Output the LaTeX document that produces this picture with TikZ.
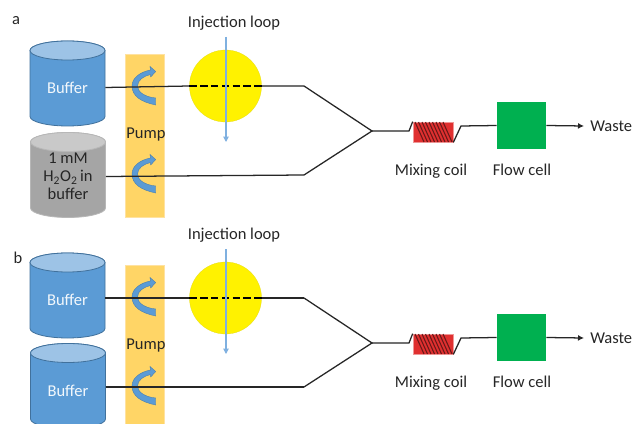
\documentclass[tikz,border=0pt]{standalone}
\usepackage{fontspec}
\setmainfont{Carlito}
\usetikzlibrary{arrows.meta}
\definecolor{cylblue}{HTML}{5B9BD5}
\definecolor{cyledge}{HTML}{41719C}
\definecolor{cyltop}{HTML}{9DC3E6}
\definecolor{cylgray}{HTML}{A5A5A5}
\definecolor{cylgraytop}{HTML}{C9C9C9}
\definecolor{pumpfill}{HTML}{FFD566}
\definecolor{pumpedge}{HTML}{FFE2A0}
\definecolor{coilred}{HTML}{E03030}
\definecolor{coildark}{HTML}{6A1818}
\definecolor{cellgreen}{HTML}{00B050}
\definecolor{loopblue}{HTML}{7FB0E0}
\definecolor{txt}{HTML}{262626}
\def\px{0.75pt}
\tikzset{
  lbl/.style={font=\fontsize{12.4}{14}\selectfont,text=txt,inner sep=0pt},
  cyllbl/.style={lbl,align=center,minimum width=75*\px,minimum height=40*\px},
  pipe/.style={draw=black!85,line width=0.95pt,line join=miter},
  dashpipe/.style={draw=black,line width=1.5pt,dash pattern=on 5.5pt off 2.6pt},
  pumpbar/.style={fill=pumpfill,draw=pumpedge,line width=0.6pt,minimum width=39*\px,inner sep=0pt},
  curl/.style={fill=cylblue,draw=cyledge!70!cylblue,line width=0.3pt},
  loopdisc/.style={circle,fill=yellow,draw=yellow!70!black!40!yellow,line width=0.2pt,minimum size=72*\px,inner sep=0pt},
  coilbox/.style={fill=coilred,draw=coilred!50!white,line width=0.5pt,minimum width=40*\px,minimum height=20*\px,inner sep=0pt},
  cellbox/.style={fill=cellgreen,minimum width=49*\px,minimum height=47*\px,inner sep=0pt},
  inject/.style={draw=loopblue,line width=0.8pt,-{Triangle[length=4pt,width=4pt]}},
  outflow/.style={draw=black!85,line width=0.95pt,-{Latex[length=4.5pt,width=4.5pt]}},
  winding/.style={draw=coildark,line width=0.8pt}
}
\newcommand{\drum}[5]{%
  \fill[#3,draw=#5,line width=0.6pt] (#1-37.5,#2) -- (#1-37.5,#2+66)
    arc[start angle=180,end angle=360,x radius=37.5,y radius=-9.5] -- (#1+37.5,#2)
    arc[start angle=0,end angle=180,x radius=37.5,y radius=-9.5] -- cycle;
  \draw[fill=#4,draw=#5,line width=0.6pt] (#1,#2) ellipse[x radius=37.5,y radius=9.5];
}
\newcommand{\curl}[1]{%
  \fill[curl] (155.7,#1+18) .. controls (141,#1+15) and (132,#1+9) .. (132,#1-1)
   .. controls (132,#1-9) and (140,#1-15) .. (150.5,#1-17) -- (150,#1-20.5) -- (155.7,#1-15.5) -- (150.7,#1-10) -- (150.5,#1-12.5)
   .. controls (144,#1-11) and (137.5,#1-7) .. (137.5,#1-1)
   .. controls (137.5,#1+5) and (145,#1+10) .. (155.7,#1+11) -- cycle;
}
\newcommand{\flowrun}[2]{%
\begin{scope}[shift={(0,#2)},name prefix=#1]
  \node[loopdisc] (disc) at (225.5,86) {};
  \node[lbl] (inj) at (234,23) {Injection loop};
  \coordinate (injtop) at (226,37);
  \coordinate (injend) at (226,142);
  \coordinate (bend1) at (304,86);
  \coordinate (bend2) at (304,175);
  \node[coordinate] (join) at (372,131) {};
  \node[coilbox] (coil) at (433,132) {};
  \node[cellbox] (cell) at (521.5,125.5) {};
  \coordinate (wasteend) at (584,126);
  \node[lbl,anchor=west] (waste) at (590,126.5) {Waste};
  \node[lbl] (coillbl) at (431,171) {Mixing coil};
  \node[lbl] (celllbl) at (522,170) {Flow cell};
  \coordinate (c1) at (409,131);
  \coordinate (c2) at (461,126);
  \foreach \i in {0,...,8} {\draw[winding] (415+3.5*\i,122) -- (424+3.5*\i,142);}
  \draw[pipe] (join) -- (c1) -- (coil.north west);
  \draw[pipe] (coil.south east) -- (c2) -- (cell.west);
  \draw[outflow] (cell.east) -- (wasteend);
  \draw[pipe] (bend1) -- (join) -- (bend2);
\end{scope}}
\begin{document}
\begin{tikzpicture}[x=0.75pt,y=-0.75pt]
\useasboundingbox (0,0) rectangle (632,424);
\clip (0,0) rectangle (632,424);
\fill[white] (0,0) rectangle (632,424);

% panel a
\node[pumpbar,minimum height=163*\px] (pumpa) at (144.5,135.5) {};
\drum{67.5}{50.5}{cylblue}{cyltop}{cyledge}
\drum{68}{142}{cylgray}{cylgraytop}{cylgray!80!white}
\curl{87}\curl{175}
\node[lbl] (la) at (16,21) {a};
\node[cyllbl,text=white!88!cyltop] (bufa) at (67.5,87.5) {Buffer};
\node[cyllbl,minimum height=60*\px] (pera) at (68,176.5) {1 mM\\[-0.5pt]H\textsubscript{2}O\textsubscript{2}\kern-1pt\ in\\[-0.5pt]buffer};
\node[lbl] (pumplbla) at (146,135) {Pump};
\flowrun{a-}{0}
\draw[pipe] (bufa.east) -- (a-disc.west) (a-disc.east) -- (a-bend1);
\draw[dashpipe] (a-disc.west) -- (a-disc.east);
\draw[pipe] (pera.east) -- (a-bend2);
\draw[inject] (a-injtop) -- (a-injend);

% panel b
\node[pumpbar,minimum height=170*\px] (pumpb) at (144.5,350) {};
\drum{67.5}{262.5}{cylblue}{cyltop}{cyledge}
\drum{68}{353}{cylblue}{cyltop}{cyledge}
\curl{298}\curl{387}
\node[lbl] (lb) at (18,258) {b};
\node[cyllbl,text=white!88!cyltop] (bufb) at (67.5,300) {Buffer};
\node[cyllbl,text=white!88!cyltop] (bufc) at (68,391) {Buffer};
\node[lbl] (pumplblb) at (146,346) {Pump};
\flowrun{b-}{212}
\coordinate (bufbout) at (105,298);
\coordinate (bufcout) at (105.5,387);
\draw[pipe] (bufbout) -- (b-disc.west) (b-disc.east) -- (b-bend1);
\draw[dashpipe] (b-disc.west) -- (b-disc.east);
\draw[pipe] (bufcout) -- (b-bend2);
\draw[inject] (b-injtop) -- (b-injend);
\end{tikzpicture}
\end{document}
